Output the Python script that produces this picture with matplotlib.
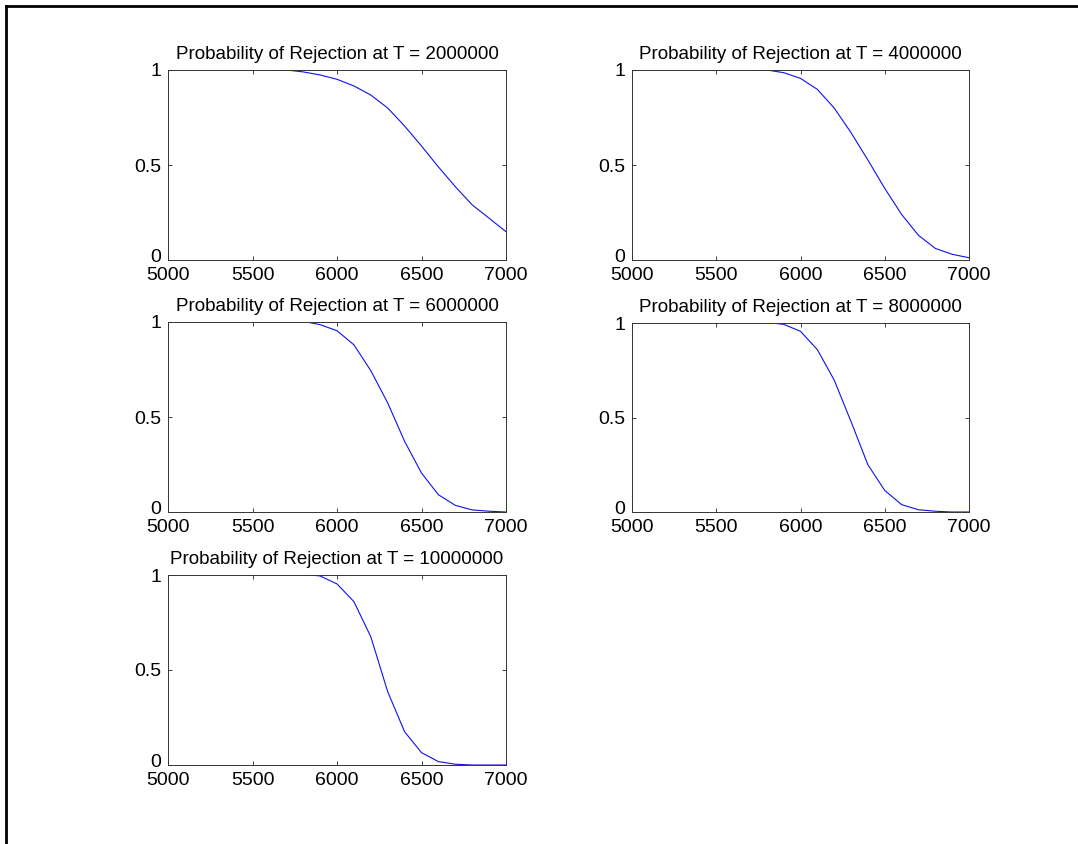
import matplotlib
import numpy as np
from matplotlib import pyplot as plt
from matplotlib.lines import Line2D
from matplotlib.transforms import ScaledTranslation

matplotlib.use('Agg')

# 每个T值对应的曲线数据
t_labels = ['2000000', '4000000', '6000000', '8000000', '10000000']

x_t2 = [5650, 5700, 5800, 5900, 6000, 6100, 6200, 6300, 6400, 6500, 6600, 6700, 6800, 6900, 7000]
p_t2 = [1.0, 1.0, 0.99, 0.974, 0.951, 0.916, 0.868, 0.80, 0.705, 0.60, 0.49, 0.386, 0.29, 0.22, 0.149]

x_t4 = [5750, 5800, 5900, 6000, 6100, 6200, 6300, 6400, 6500, 6600, 6700, 6800, 6900, 7000]
p_t4 = [1.0, 1.0, 0.986, 0.956, 0.898, 0.80, 0.67, 0.526, 0.377, 0.24, 0.13, 0.061, 0.03, 0.012]

x_t6 = [5820, 5900, 6000, 6100, 6200, 6300, 6400, 6500, 6600, 6700, 6800, 6900, 7000]
p_t6 = [1.0, 0.986, 0.954, 0.88, 0.744, 0.574, 0.372, 0.205, 0.091, 0.035, 0.011, 0.004, 0.0]

x_t8 = [5830, 5900, 6000, 6100, 6200, 6300, 6400, 6500, 6600, 6700, 6800, 6900, 7000]
p_t8 = [1.0, 0.993, 0.956, 0.859, 0.698, 0.478, 0.25, 0.114, 0.039, 0.012, 0.004, 0.0, 0.0]

x_t10 = [5840, 5900, 6000, 6100, 6200, 6300, 6400, 6500, 6600, 6700, 6800, 6900, 7000]
p_t10 = [1.0, 0.995, 0.953, 0.86, 0.675, 0.386, 0.175, 0.065, 0.018, 0.004, 0.0, 0.0, 0.0]

x_ticks = [5000, 5500, 6000, 6500, 7000]
y_ticks = [0, 0.5, 1]
y_tick_labels = ['0', '0.5', '1']

plt.rcParams['font.family'] = ['Liberation Sans', 'DejaVu Sans']

W, H = 1078, 844
fig = plt.figure(figsize=(W / 100, H / 100), dpi=100)

# 子图位置（像素：左、右、上、下）
boxes = [
    (168, 506, 70, 260),
    (632, 969, 70, 260),
    (168, 506, 322, 512),
    (632, 969, 323, 512),
    (168, 506, 575, 765),
]
series = [(x_t2, p_t2), (x_t4, p_t4), (x_t6, p_t6), (x_t8, p_t8), (x_t10, p_t10)]

for (l, r, t, b), (xs, ps), lab in zip(boxes, series, t_labels):
    ax = fig.add_axes([l / W, (H - b) / H, (r - l) / W, (b - t) / H])
    ax.plot(xs, ps, color='#1010ee', lw=0.8)
    ax.set_xlim(5000, 7000)
    ax.set_ylim(0, 1)
    ax.set_xticks(x_ticks)
    ax.set_yticks(y_ticks)
    ax.set_yticklabels(y_tick_labels)
    ax.tick_params(direction='in', length=3, width=0.6, top=True, right=True,
                   labelsize=14, colors='#222222', labelcolor='black')
    ax.tick_params(axis='x', pad=5)
    ax.tick_params(axis='y', pad=5)
    # "0" 标签稍微上移，避免与5000重叠
    ylabs = ax.get_yticklabels()
    ylabs[0].set_transform(ylabs[0].get_transform() + ScaledTranslation(0, 3 / 72, fig.dpi_scale_trans))
    for sp in ax.spines.values():
        sp.set_linewidth(0.7)
        sp.set_color('#333333')
    ax.set_title(f'Probability of Rejection at T = {lab}', fontsize=13.5, pad=8)

# 外框（上、左）
fig.add_artist(Line2D([5.5 / W, 1], [1 - 5.5 / H, 1 - 5.5 / H], color='black', lw=2))
fig.add_artist(Line2D([5.5 / W, 5.5 / W], [0, 1 - 5.5 / H], color='black', lw=2))

fig.savefig('out.png', dpi=100, facecolor='white')
plt.close()
